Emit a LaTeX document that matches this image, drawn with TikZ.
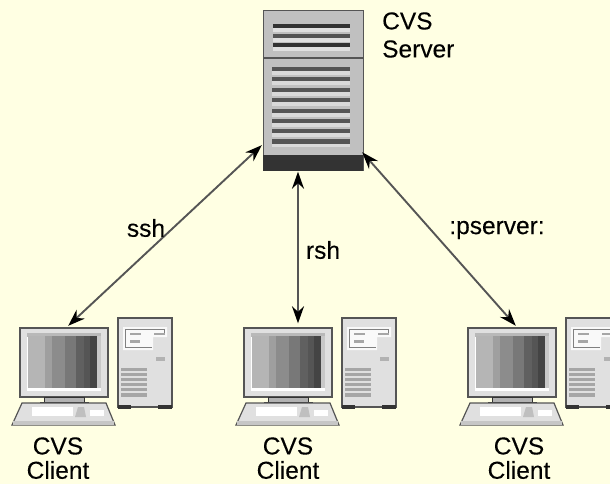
\documentclass[tikz,border=0pt]{standalone}
\usepackage{fontspec}
\setmainfont[FakeBold=0.12]{Liberation Sans}
\usetikzlibrary{arrows.meta}
\definecolor{bgc}{HTML}{FFFFE3}
\definecolor{caseg}{HTML}{C0C0C0}
\definecolor{edgeg}{HTML}{555555}
\definecolor{darkg}{HTML}{333333}
\definecolor{lightg}{HTML}{E0E0E0}
\definecolor{ba}{HTML}{B5B5B5}
\definecolor{bb}{HTML}{9F9F9F}
\definecolor{bc}{HTML}{8C8C8C}
\definecolor{bd}{HTML}{787878}
\definecolor{be}{HTML}{606060}
\definecolor{bf}{HTML}{555555}
\definecolor{bg}{HTML}{444444}
\definecolor{bh}{HTML}{C8C8C8}
\tikzset{
  x=1pt,y=-1pt,
  lab/.style={font=\fontsize{24.5}{26}\selectfont,text=black,inner sep=0pt,align=center},
  link/.style={draw=edgeg,line width=1.9pt,{Stealth[length=17pt,width=12pt,black]}-{Stealth[length=17pt,width=12pt,black]}},
  anchorbox/.style={inner sep=0pt,minimum width=0pt,draw=none},
  pics/client/.style={code={
    % tower
    \fill[lightg,draw=edgeg,line width=1.2pt] (118,318) rectangle (172,407);
    \fill[darkg] (118,405) rectangle (131,409);
    \fill[darkg] (158,405) rectangle (172,409);
    \fill[white!80!lightg] (123,327) -- (167,327) -- (167,337) -- (153,337) -- (153,350) -- (123,350) -- cycle;
    \draw[gray,line width=.8pt] (125,329) -- (164,329) -- (164,334);
    \draw[gray,line width=.8pt] (125,329) -- (125,347) -- (152,347);
    \fill[gray!70] (130,333) rectangle (141,335);
    \fill[gray!70] (154,333) rectangle (165,335);
    \fill[gray!70] (130,340) rectangle (140,343);
    \fill[gray!60] (156,357) rectangle (165,361);
    \foreach \yy in {368,373,378,383,388}{\fill[gray!70] (121,\yy) rectangle (147,\yy+2.5);}
    \fill[gray!70] (121,393) rectangle (147,397);
    % monitor
    \fill[lightg,draw=edgeg,line width=1.4pt] (20,328) rectangle (108,397);
    \fill[white] (27,333) rectangle (101,391);
    \fill[gray!55] (27,333) rectangle (101,337);
    \fill[ba] (28,336) rectangle (45,388);
    \fill[bb] (45,336) rectangle (52,388);
    \fill[bc] (52,336) rectangle (65,388);
    \fill[bd] (65,336) rectangle (76,388);
    \fill[be] (76,336) rectangle (84,388);
    \fill[bf] (84,336) rectangle (90,388);
    \fill[bg] (90,336) rectangle (97,388);
    \fill[bh] (97,336) rectangle (101,388);
    % stand
    \fill[gray!60,draw=darkg,line width=1pt] (44,397) rectangle (84,402);
    \fill[gray!60,draw=darkg,line width=1pt] (40,402) rectangle (88,405);
    % keyboard
    \fill[lightg,draw=edgeg,line width=1.2pt] (22,403) -- (106,403) -- (115,425) -- (12,425) -- cycle;
    \fill[gray!45] (13,421) rectangle (114,425);
    \fill[white] (32,407) rectangle (73,416);
    \fill[white] (90,410) rectangle (104,416);
    \fill[gray!50] (78,407) -- (84,407) -- (86,417) -- (75,417) -- cycle;
  }}
}
\begin{document}
\begin{tikzpicture}
\useasboundingbox[fill=bgc] (0,0) rectangle (610,484);
\begin{scope}
\clip (0,0) rectangle (610,484);
% server
\node[draw=edgeg,line width=1.4pt,fill=caseg,inner sep=0pt,minimum width=100pt,minimum height=160pt,anchor=north west] (server) at (263,10) {};
\fill[darkg] (262.5,155) rectangle (362.5,171);
\draw[edgeg,line width=1.2pt] (263,58) -- (363,58);
\foreach \yy/\cc in {24/darkg,34/edgeg,43/darkg}{
  \fill[black!12] (273,\yy+4) rectangle (350,\yy+8);
  \fill[\cc] (273,\yy) rectangle (350,\yy+4.5);
}
\foreach \yy in {67,77,88,98,109,119,129,139}{
  \fill[black!15] (272,\yy+4) rectangle (350,\yy+8);
  \fill[edgeg] (272,\yy) rectangle (350,\yy+4.5);
}
% clients
\pic at (0,0) {client};
\pic at (224,0) {client};
\pic at (448,0) {client};
\end{scope}
\node[anchorbox] (clientA) at (68,326) {};
\node[anchorbox] (clientB) at (298,324) {};
\node[anchorbox] (clientC) at (516,326) {};
\node[anchorbox] (portA) at (262,145) {};
\node[anchorbox] (portB) at (298,171) {};
\node[anchorbox] (portC) at (362,152) {};
\draw[link] (portA) -- (clientA);
\draw[link] (portB) -- (clientB);
\draw[link] (portC) -- (clientC);
% labels
\node[lab,anchor=west] (t1) at (382,21) {CVS};
\node[lab,anchor=west] (t2) at (382,49) {Server};
\node[lab] (l1) at (146,228) {ssh};
\node[lab] (l2) at (323,250) {rsh};
\node[lab] (l3) at (497,230) {:pserver:};
\node[lab] (c1a) at (58,446) {CVS};
\node[lab] (c1b) at (58,470) {Client};
\node[lab] (c2a) at (288,446) {CVS};
\node[lab] (c2b) at (288,470) {Client};
\node[lab] (c3a) at (519,446) {CVS};
\node[lab] (c3b) at (519,470) {Client};
\end{tikzpicture}
\end{document}
